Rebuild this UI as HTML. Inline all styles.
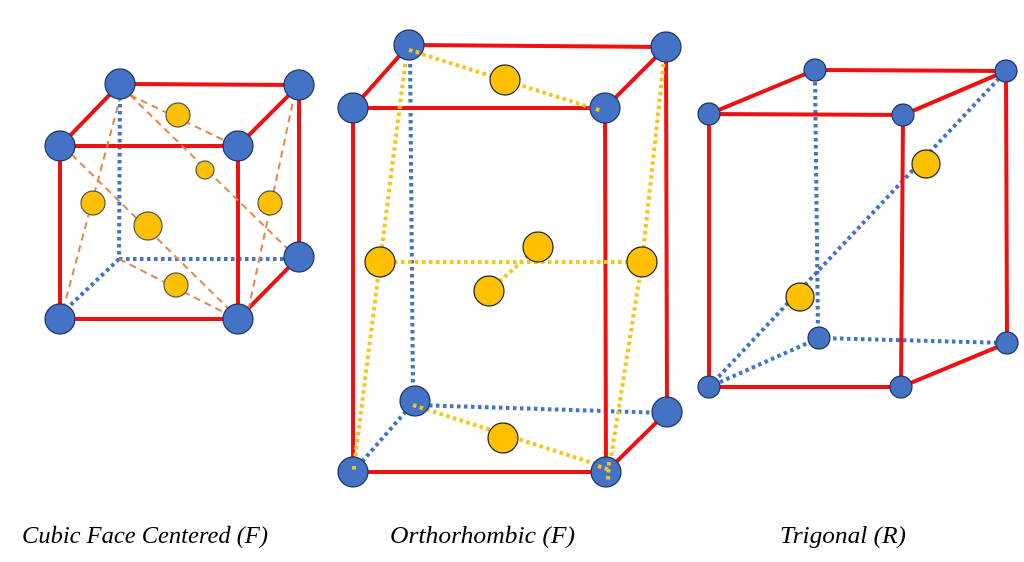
<!DOCTYPE html>
<html><head><meta charset="utf-8"><style>
html,body{margin:0;padding:0;background:#fff;}
svg{display:block;}
.r{stroke:#ee1111;stroke-width:4;fill:none;}
.b{stroke:#4472c4;stroke-width:4;stroke-dasharray:3.5 3.5;fill:none;}
.o{stroke:#e0884a;stroke-width:2;stroke-dasharray:7 5;fill:none;}
.y{stroke:#f5c518;stroke-width:4;stroke-dasharray:3.5 3.5;fill:none;}
.n{fill:#4472c4;stroke:#1f3560;stroke-width:1.2;}
.g{fill:#ffc000;stroke:#555;stroke-width:1.2;}
.gy{fill:#ffc000;stroke:#222;stroke-width:1.2;}
text{font-family:"Liberation Serif",serif;font-style:italic;font-size:24px;fill:#000;}
</style></head><body>
<svg width="1024" height="562" viewBox="0 0 1024 562">
<!-- Cubic -->
<g>
<line class="b" x1="120" y1="90" x2="119" y2="259"/>
<line class="b" x1="119" y1="259" x2="299" y2="259"/>
<line class="b" x1="119" y1="259" x2="60" y2="315"/>
<polyline class="r" points="60,146 238,146 238,319 60,319 60,146"/>
<line class="r" x1="60" y1="146" x2="120" y2="84"/>
<line class="r" x1="120" y1="84" x2="299" y2="85"/>
<line class="r" x1="238" y1="146" x2="299" y2="85"/>
<line class="r" x1="299" y1="85" x2="299" y2="257"/>
<line class="r" x1="238" y1="319" x2="299" y2="257"/>
<line class="o" x1="130" y1="95" x2="240" y2="148"/>
<line class="o" x1="130" y1="95" x2="297" y2="258"/>
<line class="o" x1="63" y1="146" x2="238" y2="318"/>
<line class="o" x1="63" y1="310" x2="120" y2="98"/>
<line class="o" x1="295" y1="92" x2="243" y2="335"/>
<line class="o" x1="119" y1="259" x2="235" y2="318"/>
<circle class="n" cx="120" cy="84" r="15"/>
<circle class="n" cx="299" cy="85" r="15"/>
<circle class="n" cx="60" cy="146" r="15"/>
<circle class="n" cx="238" cy="146" r="15"/>
<circle class="n" cx="60" cy="319" r="15"/>
<circle class="n" cx="238" cy="319" r="15"/>
<circle class="n" cx="299" cy="257" r="15"/>
<circle class="g" cx="178" cy="115" r="12"/>
<circle class="g" cx="205" cy="170" r="9"/>
<circle class="g" cx="93" cy="203" r="12"/>
<circle class="g" cx="148" cy="226" r="14"/>
<circle class="g" cx="270" cy="203" r="12"/>
<circle class="g" cx="176" cy="285" r="12"/>
</g>
<!-- Orthorhombic -->
<g>
<line class="b" x1="410" y1="50" x2="413" y2="390"/>
<line class="b" x1="415" y1="405" x2="667" y2="413"/>
<line class="b" x1="415" y1="401" x2="353" y2="472"/>
<polyline class="r" points="353,108 605,108 606,472 353,472 353,108"/>
<line class="r" x1="353" y1="108" x2="409" y2="45"/>
<line class="r" x1="409" y1="45" x2="666" y2="47"/>
<line class="r" x1="605" y1="108" x2="666" y2="47"/>
<line class="r" x1="666" y1="47" x2="667" y2="412"/>
<line class="r" x1="606" y1="472" x2="667" y2="412"/>
<line class="y" x1="409" y1="50" x2="602" y2="111"/>
<polyline class="y" points="407,50 380,262 354,466"/>
<polyline class="y" points="665,50 642,262 609,470"/>
<line class="y" x1="380" y1="262" x2="642" y2="262"/>
<line class="y" x1="489" y1="291" x2="538" y2="247"/>
<line class="y" x1="413" y1="405" x2="608" y2="468"/>
<circle class="n" cx="409" cy="45" r="15"/>
<circle class="n" cx="666" cy="47" r="15"/>
<circle class="n" cx="353" cy="108" r="15"/>
<circle class="n" cx="605" cy="108" r="15"/>
<circle class="n" cx="353" cy="472" r="15"/>
<circle class="n" cx="606" cy="472" r="15"/>
<circle class="n" cx="415" cy="401" r="15"/>
<circle class="n" cx="667" cy="412" r="15"/>
<line class="y" x1="409" y1="50" x2="420" y2="53"/>
<line class="y" x1="596" y1="109" x2="602" y2="111"/>
<line class="y" x1="413" y1="405" x2="425" y2="409"/>
<line class="y" x1="598" y1="466" x2="610" y2="470"/>
<line class="y" x1="609" y1="462" x2="608" y2="480"/>
<line class="y" x1="354" y1="466" x2="354" y2="470"/>
<circle class="gy" cx="505" cy="80" r="15"/>
<circle class="gy" cx="380" cy="262" r="15"/>
<circle class="gy" cx="642" cy="262" r="15"/>
<circle class="gy" cx="538" cy="247" r="15"/>
<circle class="gy" cx="489" cy="291" r="15"/>
<circle class="gy" cx="503" cy="438" r="15"/>
</g>
<!-- Trigonal -->
<g>
<line class="b" x1="815" y1="75" x2="818" y2="330"/>
<line class="b" x1="819" y1="338" x2="1007" y2="343"/>
<line class="b" x1="819" y1="338" x2="709" y2="387"/>
<line class="b" x1="709" y1="387" x2="1006" y2="71"/>
<polyline class="r" points="709,114 903,115 901,387 709,387 709,114"/>
<line class="r" x1="709" y1="114" x2="815" y2="70"/>
<line class="r" x1="815" y1="70" x2="1006" y2="71"/>
<line class="r" x1="903" y1="115" x2="1006" y2="71"/>
<line class="r" x1="1006" y1="71" x2="1007" y2="343"/>
<line class="r" x1="901" y1="387" x2="1007" y2="343"/>
<circle class="n" cx="815" cy="70" r="11"/>
<circle class="n" cx="1006" cy="71" r="11"/>
<circle class="n" cx="709" cy="114" r="11"/>
<circle class="n" cx="903" cy="115" r="11"/>
<circle class="n" cx="709" cy="387" r="11"/>
<circle class="n" cx="901" cy="387" r="11"/>
<circle class="n" cx="819" cy="338" r="11"/>
<circle class="n" cx="1007" cy="343" r="11"/>
<circle class="gy" cx="926" cy="164" r="14"/>
<circle class="gy" cx="800" cy="297" r="14"/>
</g>
<text x="22" y="543" textLength="246" lengthAdjust="spacingAndGlyphs">Cubic Face Centered (F)</text>
<text x="390" y="543" textLength="185" lengthAdjust="spacingAndGlyphs">Orthorhombic (F)</text>
<text x="780" y="543" textLength="126" lengthAdjust="spacingAndGlyphs">Trigonal (R)</text>
</svg>
</body></html>
